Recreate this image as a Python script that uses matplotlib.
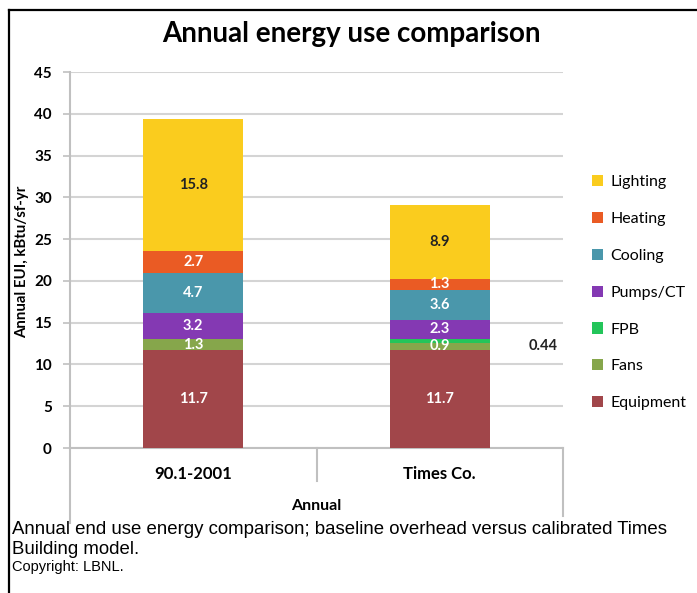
import numpy as np
import matplotlib.pyplot as plt
from matplotlib.lines import Line2D
from matplotlib.patches import Patch

plt.rcParams['font.family'] = ['Lato', 'DejaVu Sans']

scenarios = ['90.1-2001', 'Times Co.']
end_uses = ['Equipment', 'Fans', 'FPB', 'Pumps/CT', 'Cooling', 'Heating', 'Lighting']
equipment = [11.7, 11.7]
fans = [1.3, 0.9]
fpb = [0.0, 0.44]
pumps = [3.2, 2.3]
cooling = [4.7, 3.6]
heating = [2.7, 1.3]
lighting = [15.8, 8.9]

colors = ['#A1464A', '#86A64B', '#23C55A', '#8439B3', '#4A97AB', '#EA5B24', '#FACC1E']
text_colors = ['white', 'white', 'white', 'white', 'white', 'white', '#222222']

fig = plt.figure(figsize=(6.97, 5.93), dpi=100)
ax = fig.add_axes([70/697, 1 - 448/593, (563 - 70)/697, (448 - 72)/593])

x = np.arange(len(scenarios))
width = 0.405
bottom = np.zeros(len(scenarios))
series = [equipment, fans, fpb, pumps, cooling, heating, lighting]
for name, vals, col, tcol in zip(end_uses, series, colors, text_colors):
    vals = np.array(vals)
    ax.bar(x, vals, width, bottom=bottom, color=col, zorder=3, label=name)
    for i in range(len(x)):
        if vals[i] <= 0:
            continue
        yc = bottom[i] + vals[i] / 2
        if name == 'FPB':
            # too thin to hold its label, so put it beside the bar
            ax.annotate(f'{vals[i]:g}', xy=(x[i] + width/2, yc), xytext=(28, -4),
                        textcoords='offset points', ha='left', va='center',
                        fontsize=10.5, fontweight='bold', color='#222222')
        else:
            ax.text(x[i], yc, f'{vals[i]:g}', ha='center', va='center',
                    fontsize=10.5, fontweight='bold', color=tcol, zorder=4)
    bottom += vals

ax.set_xlim(-0.5, 1.5)
ax.set_ylim(0, 45)
ax.set_yticks(np.arange(0, 46, 5))
ax.yaxis.grid(True, color='#D4D4D4', linewidth=1.5, zorder=0)
ax.set_axisbelow(True)
for s in ['top', 'right']:
    ax.spines[s].set_visible(False)
ax.spines['left'].set_color('#C0C0C0')
ax.spines['bottom'].set_color('#C0C0C0')
ax.spines['left'].set_linewidth(1.5)
ax.spines['bottom'].set_linewidth(1.5)
ax.spines['left'].set_bounds(-9, 45)
ax.tick_params(axis='y', length=5, width=1.2, color='#C0C0C0', labelsize=11, pad=8)
ax.set_xticks(x)
ax.set_xticklabels(scenarios, fontsize=12, fontweight='bold')
ax.tick_params(axis='x', length=0, pad=13)
for lab in ax.get_yticklabels():
    lab.set_fontweight('bold')

# category separators below the axis
ax.plot([0.5, 0.5], [0, -3.9], color='#C0C0C0', lw=1.5, clip_on=False)
ax.plot([1.5, 1.5], [0, -8.1], color='#C0C0C0', lw=1.5, clip_on=False)

ax.set_xlabel('Annual', fontsize=11.5, fontweight='bold', labelpad=12)
fig.text(22/697, 1 - 262/593, 'Annual EUI, kBtu/sf-yr', rotation=90, ha='center',
         va='center', fontsize=10.8, fontweight='bold')

fig.text(351/697, 1 - 34/593, 'Annual energy use comparison', ha='center', va='center',
         fontsize=20, fontweight='bold')

handles = [Patch(facecolor=c, label=n) for n, c in zip(end_uses, colors)][::-1]
fig.legend(handles=handles, loc='upper left', bbox_to_anchor=(592/697, 1 - 175/593),
           frameon=False, fontsize=11.5, handlelength=0.7, handleheight=0.7,
           handletextpad=0.45, labelspacing=1.42, borderaxespad=0, borderpad=0)

fig.text(12/697, 1 - 530/593,
         'Annual end use energy comparison; baseline overhead versus calibrated Times',
         family='Liberation Sans', fontsize=13.4, ha='left', va='center')
fig.text(12/697, 1 - 549/593, 'Building model.', family='Liberation Sans', fontsize=13.4,
         ha='left', va='center')
fig.text(12/697, 1 - 567/593, 'Copyright: LBNL.', family='Liberation Sans', fontsize=10.5,
         ha='left', va='center')

# outer frame: left and top edges
fig.add_artist(Line2D([9/697, 9/697], [0, 1 - 10/593], color='black', lw=1.6))
fig.add_artist(Line2D([9/697, 1], [1 - 10/593, 1 - 10/593], color='black', lw=1.6))

fig.savefig('out.png', dpi=100)
